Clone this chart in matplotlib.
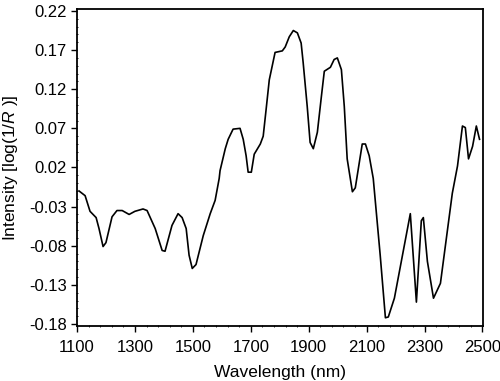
import matplotlib
matplotlib.use("Agg")
import matplotlib.pyplot as plt
from matplotlib.ticker import AutoMinorLocator

plt.rcParams['font.family'] = ['Liberation Sans', 'DejaVu Sans']
plt.rcParams['mathtext.fontset'] = 'custom'
plt.rcParams['mathtext.it'] = 'Liberation Sans:italic'
plt.rcParams['mathtext.rm'] = 'Liberation Sans'

# spectrum
wavelength = [1107, 1128, 1145, 1166, 1176, 1190, 1200, 1221, 1238, 1256,
              1280, 1300, 1328, 1342, 1370, 1394, 1404, 1428, 1449, 1463,
              1477, 1487, 1498, 1511, 1536, 1560, 1577, 1591, 1594, 1612,
              1622, 1639, 1663, 1674, 1684, 1691, 1702, 1712, 1733, 1743,
              1753, 1764, 1784, 1809, 1819, 1833, 1847, 1861, 1874, 1881,
              1895, 1905, 1916, 1930, 1944, 1954, 1975, 1988, 1999, 2013,
              2023, 2033, 2051, 2061, 2085, 2096, 2109, 2123, 2147, 2165,
              2175, 2196, 2224, 2251, 2272, 2289, 2296, 2310, 2331, 2355,
              2396, 2414, 2431, 2441, 2452, 2466, 2479, 2490]
intensity = [-0.010, -0.016, -0.036, -0.044, -0.058, -0.081, -0.076, -0.043, -0.035, -0.035,
             -0.040, -0.036, -0.033, -0.035, -0.058, -0.086, -0.087, -0.054, -0.039, -0.044,
             -0.058, -0.092, -0.109, -0.104, -0.067, -0.039, -0.022, 0.006, 0.016, 0.044,
             0.056, 0.069, 0.070, 0.056, 0.035, 0.014, 0.014, 0.037, 0.050, 0.060,
             0.094, 0.132, 0.167, 0.169, 0.174, 0.187, 0.195, 0.192, 0.179, 0.154,
             0.098, 0.052, 0.044, 0.065, 0.111, 0.143, 0.148, 0.158, 0.160, 0.145,
             0.098, 0.031, -0.011, -0.006, 0.050, 0.050, 0.035, 0.006, -0.092, -0.172,
             -0.171, -0.147, -0.092, -0.039, -0.152, -0.048, -0.044, -0.100, -0.147, -0.128,
             -0.013, 0.022, 0.073, 0.071, 0.031, 0.047, 0.073, 0.056]

xticks = [1100, 1300, 1500, 1700, 1900, 2100, 2300, 2500]
yticks = [-0.18, -0.13, -0.08, -0.03, 0.02, 0.07, 0.12, 0.17, 0.22]

fig = plt.figure(figsize=(5, 3.81), dpi=100)
ax = fig.add_axes([0.154, 0.1444, 0.812, 0.832])
ax.plot(wavelength, intensity, color='black', lw=1.2)

ax.set_xlim(1100, 2502)
ax.set_ylim(-0.1825, 0.2225)
ax.set_xticks(xticks)
ax.set_yticks(yticks)
ax.set_yticklabels(['%.2f' % v for v in yticks])
ax.xaxis.set_minor_locator(AutoMinorLocator(5))
ax.yaxis.set_minor_locator(AutoMinorLocator(5))
ax.tick_params(which='major', direction='out', length=4, width=1, labelsize=12)
ax.tick_params(axis='x', which='major', pad=6)
ax.tick_params(which='minor', direction='inout', length=2, width=0.6)
for s in ax.spines.values():
	s.set_linewidth(1.3)

ax.set_xlabel('Wavelength (nm)', fontsize=12.5, labelpad=7)
ax.set_ylabel(r'Intensity [log(1/$\mathit{R}$ )]', fontsize=12.5, labelpad=6)

fig.savefig('out.png', dpi=100)
